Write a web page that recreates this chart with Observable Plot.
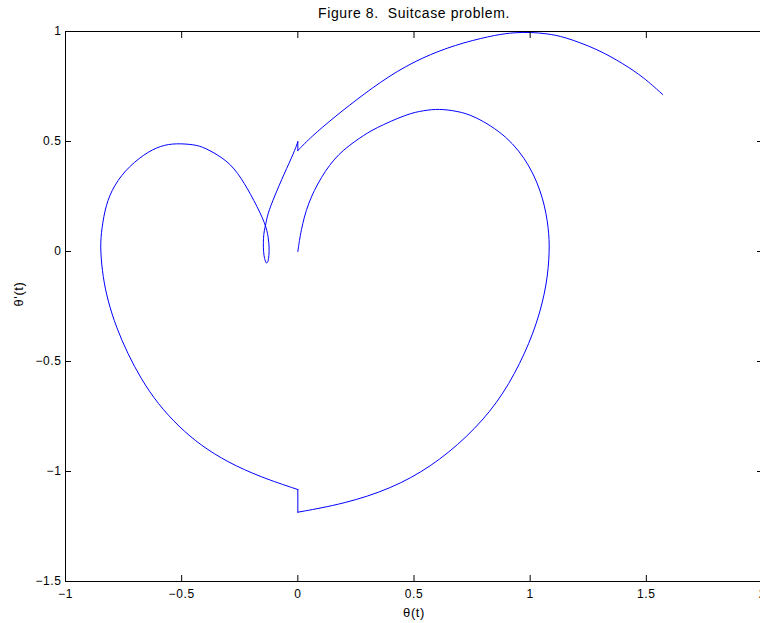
<!DOCTYPE html>
<html>
<head>
<meta charset="utf-8">
<script src="https://cdn.jsdelivr.net/npm/d3@7"></script>
<script src="https://cdn.jsdelivr.net/npm/@observablehq/plot@0.6"></script>
<style>
  html, body { margin: 0; padding: 0; background: #fff; overflow: hidden; }
  #chart svg text { white-space: pre; letter-spacing: 0.6px; }
</style>
</head>
<body>
<div id="chart"></div>
<script>
const titleText = "Figure 8.  Suitcase problem.";
const xLabel = "θ(t)";
const yLabel = "θ'(t)";
const xTicks = [-1, -0.5, 0, 0.5, 1, 1.5, 2];
const yTicks = [-1.5, -1, -0.5, 0, 0.5, 1];

// Phase-plane trajectory, in drawing order.
// First swing: from rest at (0,0) over to the right and back to θ = 0
const swing1Theta = [0, 0.013, 0.042, 0.099, 0.171, 0.271, 0.328, 0.471, 0.543, 0.607, 0.686, 0.758, 0.901, 1.001, 1.058, 1.080, 1.084,
  1.073, 1.030, 0.958, 0.860, 0.729, 0.572, 0.400, 0.199, 0];
const swing1Omega = [0, 0.095, 0.217, 0.338, 0.444, 0.520, 0.558, 0.626, 0.641, 0.649, 0.638, 0.618, 0.527, 0.391, 0.240, 0.103, 0.005,
  -0.147, -0.329, -0.510, -0.690, -0.844, -0.980, -1.079, -1.147, -1.185];
// First impact at θ = 0
const impact1Theta = [0, 0];
const impact1Omega = [-1.185, -1.082];
// Second swing: to the left, the big lobe, the small loop and back to θ = 0
const swing2Theta = [0, -0.159, -0.302, -0.417, -0.512, -0.603, -0.675, -0.732, -0.782, -0.818, -0.839, -0.850,
  -0.847, -0.832, -0.804, -0.746, -0.661, -0.589, -0.524, -0.446, -0.403, -0.302, -0.245, -0.188, -0.138,
  -0.127, -0.123, -0.124, -0.128, -0.134, -0.140, -0.146, -0.149, -0.148, -0.145, -0.138, -0.130, -0.102, -0.059, -0.016, 0];
const swing2Omega = [-1.082, -1.026, -0.958, -0.882, -0.797, -0.692, -0.579, -0.465, -0.344, -0.223, -0.117, 0.005,
  0.080, 0.186, 0.277, 0.368, 0.444, 0.482, 0.492, 0.486, 0.474, 0.414, 0.338, 0.232, 0.123,
  0.065, 0.020, -0.020, -0.045, -0.056, -0.045, -0.020, 0.020, 0.060, 0.095, 0.123, 0.171, 0.247, 0.353, 0.451, 0.499];
// Second impact at θ = 0
const impact2Theta = [0, 0];
const impact2Omega = [0.499, 0.459];
// Final swing: over the top until the suitcase tips at θ = π/2
const swing3Theta = [0, 0.056, 0.156, 0.285, 0.428, 0.572, 0.715, 0.858, 0.930, 1.001, 1.073, 1.144, 1.288, 1.402, 1.488, 1.570];
const swing3Omega = [0.459, 0.520, 0.610, 0.717, 0.823, 0.899, 0.951, 0.986, 0.995, 0.997, 0.990, 0.977, 0.921, 0.853, 0.792, 0.714];

const pieces = [
  ["swing1", swing1Theta, swing1Omega],
  ["impact1", impact1Theta, impact1Omega],
  ["swing2", swing2Theta, swing2Omega],
  ["impact2", impact2Theta, impact2Omega],
  ["swing3", swing3Theta, swing3Omega]
];
const data = pieces.flatMap(([name, th, om]) => th.map((t, i) => ({theta: t, omega: om[i], segment: name})));

const fmt = d => (d < 0 ? "\u2212" : "") + Math.abs(d);

const chart = Plot.plot({
  width: 760,
  height: 623,
  marginLeft: 65,
  marginRight: -2,
  marginTop: 31,
  marginBottom: 42,
  style: {
    fontFamily: '"Liberation Sans", Arial, Helvetica, sans-serif',
    fontSize: "12px",
    background: "#fff",
    color: "#000"
  },
  x: {domain: [-1, 2]},
  y: {domain: [-1.5, 1]},
  marks: [
    Plot.line(data, {x: "theta", y: "omega", z: "segment", stroke: "#0000ff", strokeWidth: 1, curve: "basis"}),
    Plot.frame({stroke: "#000", strokeWidth: 1}),
    // inward ticks on all four sides
    Plot.axisX(xTicks, {anchor: "bottom", tickSize: 6, dy: -6, fill: "none", label: null}),
    Plot.axisX(xTicks, {anchor: "top", tickSize: 6, dy: 6, fill: "none", label: null}),
    Plot.axisY(yTicks, {anchor: "left", tickSize: 6, dx: 6, fill: "none", label: null}),
    Plot.axisY(yTicks, {anchor: "right", tickSize: 6, dx: -6, fill: "none", label: null}),
    // tick labels
    Plot.axisX(xTicks, {anchor: "bottom", tickSize: 0, tickPadding: 8, tickFormat: fmt, label: null}),
    Plot.axisY(yTicks, {anchor: "left", tickSize: 0, tickPadding: 4, tickFormat: fmt, label: null}),
    // titles
    Plot.text([titleText], {text: d => d, frameAnchor: "top", dy: -18, lineAnchor: "middle", fontSize: 14}),
    Plot.text([xLabel], {text: d => d, frameAnchor: "bottom", dy: 31, lineAnchor: "middle", fontSize: 13}),
    Plot.text([yLabel], {text: d => d, frameAnchor: "left", dx: -47, rotate: -90, lineAnchor: "middle", fontSize: 13})
  ]
});
document.getElementById("chart").appendChild(chart);
</script>
</body>
</html>
